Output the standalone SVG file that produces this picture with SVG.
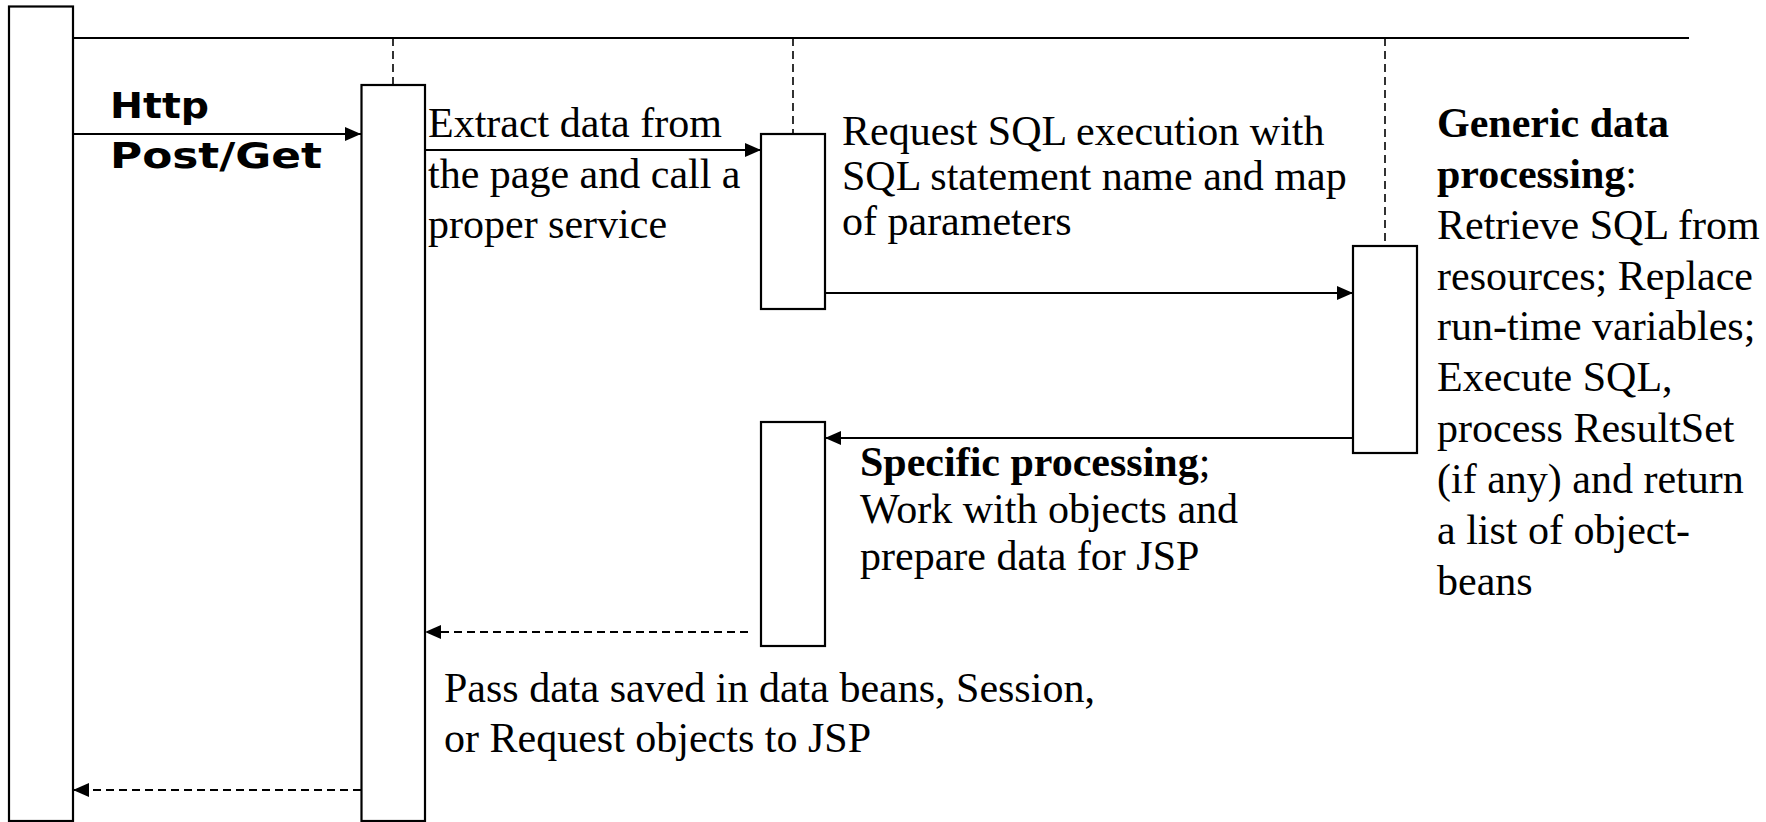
<svg xmlns="http://www.w3.org/2000/svg" width="1766" height="822" viewBox="0 0 1766 822">
  <style>
    .box { fill: #ffffff; stroke: #000000; stroke-width: 2.2; }
    .line { stroke: #000000; stroke-width: 2.2; fill: none; }
    .life { stroke: #000000; stroke-width: 1.6; stroke-dasharray: 8 5; fill: none; }
    .msg { stroke: #000000; stroke-width: 2; fill: none; }
    .ret { stroke: #000000; stroke-width: 2; stroke-dasharray: 8 5; fill: none; }
    .t { font-family: "Liberation Serif", "Times New Roman", serif; font-size: 42px; fill: #000000; }
    .b { font-weight: bold; }
    .h { font-family: "DejaVu Sans", Verdana, sans-serif; font-weight: bold; font-size: 35px; fill: #000000; }
  </style>
  <defs>
    <marker id="arrow" markerUnits="userSpaceOnUse" markerWidth="16" markerHeight="14" refX="16" refY="7" orient="auto">
      <path d="M0,0 L16,7 L0,14 Z" fill="#000000"/>
    </marker>
  </defs>
  <rect width="1766" height="822" fill="#ffffff"/>

  <g id="frame">
    <line class="line" x1="73" y1="38" x2="1689" y2="38"/>
  </g>

  <g id="lifelines">
    <line class="life" x1="393" y1="38" x2="393" y2="85"/>
    <line class="life" x1="793" y1="38" x2="793" y2="134"/>
    <line class="life" x1="1385" y1="38" x2="1385" y2="246"/>
  </g>

  <g id="node-client">
    <rect class="box" x="9" y="6.5" width="64" height="814.5"/>
  </g>
  <g id="node-controller">
    <rect class="box" x="361.5" y="85" width="63.5" height="736"/>
  </g>
  <g id="node-service-call">
    <rect class="box" x="761" y="134" width="64" height="175"/>
  </g>
  <g id="node-dataservice">
    <rect class="box" x="1353" y="246" width="64" height="207"/>
  </g>
  <g id="node-service-process">
    <rect class="box" x="761" y="422" width="64" height="224"/>
  </g>

  <g id="connectors">
    <line class="msg" x1="73" y1="134" x2="361" y2="134" marker-end="url(#arrow)"/>
    <line class="msg" x1="425" y1="150" x2="761" y2="150" marker-end="url(#arrow)"/>
    <line class="msg" x1="825" y1="293" x2="1353" y2="293" marker-end="url(#arrow)"/>
    <line class="msg" x1="1353" y1="438" x2="825" y2="438" marker-end="url(#arrow)"/>
    <line class="ret" x1="748" y1="632" x2="425" y2="632" marker-end="url(#arrow)"/>
    <line class="ret" x1="361" y1="790" x2="73" y2="790" marker-end="url(#arrow)"/>
  </g>

  <g id="labels">
    <text class="h" x="110" y="118" textLength="99" lengthAdjust="spacingAndGlyphs">Http</text>
    <text class="h" x="110" y="168" textLength="212" lengthAdjust="spacingAndGlyphs">Post/Get</text>

    <g id="label-extract">
      <text class="t" x="428" y="137">Extract data from</text>
      <text class="t" x="428" y="188">the page and call a</text>
      <text class="t" x="428" y="238">proper service</text>
    </g>

    <g id="label-request">
      <text class="t" x="842" y="145">Request SQL execution with</text>
      <text class="t" x="842" y="190">SQL statement name and map</text>
      <text class="t" x="842" y="235">of parameters</text>
    </g>

    <g id="label-generic">
      <text class="t b" x="1437" y="137">Generic data</text>
      <text class="t" x="1437" y="188"><tspan class="b">processing</tspan>:</text>
      <text class="t" x="1437" y="239">Retrieve SQL from</text>
      <text class="t" x="1437" y="290">resources; Replace</text>
      <text class="t" x="1437" y="340">run-time variables;</text>
      <text class="t" x="1437" y="391">Execute SQL,</text>
      <text class="t" x="1437" y="442">process ResultSet</text>
      <text class="t" x="1437" y="493">(if any) and return</text>
      <text class="t" x="1437" y="544">a list of object-</text>
      <text class="t" x="1437" y="595">beans</text>
    </g>

    <g id="label-specific">
      <text class="t" x="860" y="476"><tspan class="b">Specific processing</tspan>;</text>
      <text class="t" x="860" y="523">Work with objects and</text>
      <text class="t" x="860" y="570">prepare data for JSP</text>
    </g>

    <g id="label-pass">
      <text class="t" x="444" y="702">Pass data saved in data beans, Session,</text>
      <text class="t" x="444" y="752">or Request objects to JSP</text>
    </g>
  </g>
</svg>
